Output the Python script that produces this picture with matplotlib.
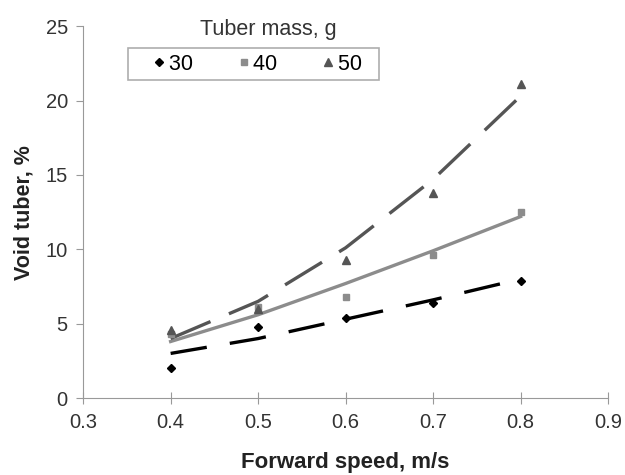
import numpy as np
import matplotlib
matplotlib.use('Agg')
import matplotlib.pyplot as plt
from matplotlib.lines import Line2D

plt.rcParams['font.family'] = 'Liberation Sans'
plt.rcParams['font.size'] = 14.5

# measured points
speed = [0.4, 0.5, 0.6, 0.7, 0.8]
void_30 = [2.0, 4.8, 5.4, 6.4, 7.9]
void_40 = [4.3, 6.1, 6.8, 9.6, 12.5]
void_50 = [4.6, 6.0, 9.3, 13.8, 21.1]

# trend lines
trend_30 = [3.0, 4.0, 5.3, 6.6, 8.0]
trend_40 = [3.8, 5.6, 7.7, 9.9, 12.2]
trend_50 = [4.0, 6.5, 10.1, 14.7, 20.3]

labels = ['30', '40', '50']

fig = plt.figure(figsize=(6.25, 4.75), dpi=100)
ax = fig.add_axes([0.133, 0.162, 0.840, 0.783])

ax.plot(speed, trend_30, color='black', lw=2.4, dashes=(11, 7), zorder=2)
ax.plot(speed, trend_40, color='#8c8c8c', lw=2.4, zorder=2)
ax.plot(speed, trend_50, color='#555555', lw=2.4, dashes=(13, 6), zorder=2)

ax.plot(speed, void_30, ls='none', marker='D', ms=4.5, color='black', zorder=3)
ax.plot(speed, void_40, ls='none', marker='s', ms=4.5, color='#8c8c8c', zorder=3)
ax.plot(speed, void_50, ls='none', marker='^', ms=5.5, color='#555555', zorder=3)

ax.set_xlim(0.3, 0.9)
ax.set_ylim(0, 25)
ax.set_xticks(np.arange(0.3, 0.91, 0.1))
ax.set_xticklabels(['0.3', '0.4', '0.5', '0.6', '0.7', '0.8', '0.9'])
ax.set_yticks(range(0, 26, 5))

for s in ['top', 'right']:
    ax.spines[s].set_visible(False)
for s in ['left', 'bottom']:
    ax.spines[s].set_color('#999999')
ax.tick_params(axis='y', direction='out', length=5, color='#999999', labelcolor='#333333', pad=6)
ax.tick_params(axis='x', direction='inout', length=8, color='#999999', labelcolor='#333333', pad=7)

ax.set_xlabel('Forward speed, m/s', fontweight='bold', fontsize=16, color='#222222', labelpad=14)
ax.set_ylabel('Void tuber, %', fontweight='bold', fontsize=15.5, color='#222222', labelpad=8)

handles = [
    Line2D([], [], ls='none', marker='D', ms=4.5, color='black'),
    Line2D([], [], ls='none', marker='s', ms=4.5, color='#8c8c8c'),
    Line2D([], [], ls='none', marker='^', ms=5.5, color='#555555'),
]
# trailing spaces give the right-hand padding seen in the original box
leg = ax.legend(handles, [l + '  ' for l in labels], ncol=3, loc='center', mode='expand',
                bbox_to_anchor=(0.065, 0.855, 0.52, 0.086),
                frameon=True, fancybox=False, edgecolor='#999999', handletextpad=-0.75,
                columnspacing=0.5, borderpad=0.25, handlelength=2.4, fontsize=15.5)
leg.get_frame().set_linewidth(1.2)
ax.text(0.352, 0.99, 'Tuber mass, g', transform=ax.transAxes, ha='center', va='center',
        fontsize=15.5, color='#333333')

plt.savefig('out.png', dpi=100)
